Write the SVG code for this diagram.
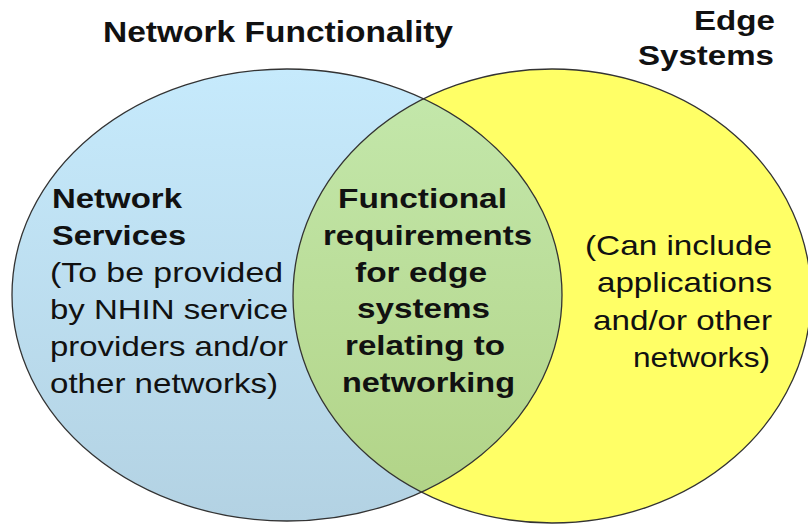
<svg xmlns="http://www.w3.org/2000/svg" width="808" height="525" viewBox="0 0 808 525">
  <style>
    .t { font-family: "Liberation Sans", Arial, sans-serif; font-size: 28px; fill: #111; }
    .b { font-weight: bold; }
    .title { font-family: "Liberation Sans", Arial, sans-serif; font-size: 30px; font-weight: bold; fill: #111; }
    .outline { fill: none; stroke: #333; stroke-width: 1.3; }
  </style>
  <defs>
    <linearGradient id="blueGrad" gradientUnits="userSpaceOnUse" x1="0" y1="69" x2="0" y2="521">
      <stop offset="0" stop-color="#c6eafc"/>
      <stop offset="1" stop-color="#b3d2e3"/>
    </linearGradient>
    <linearGradient id="greenGrad" gradientUnits="userSpaceOnUse" x1="0" y1="100" x2="0" y2="492">
      <stop offset="0" stop-color="#c3e7aa"/>
      <stop offset="1" stop-color="#b2d488"/>
    </linearGradient>
    <clipPath id="leftClip">
      <ellipse cx="287" cy="295" rx="275" ry="226"/>
    </clipPath>
  </defs>

  <rect x="0" y="0" width="808" height="525" fill="#ffffff"/>

  <g id="network-functionality">
    <ellipse cx="287" cy="295" rx="275" ry="226" fill="url(#blueGrad)"/>
  </g>
  <g id="edge-systems">
    <ellipse cx="552" cy="296" rx="259" ry="227" fill="#ffff66"/>
  </g>
  <g id="overlap">
    <ellipse cx="552" cy="296" rx="259" ry="227" fill="url(#greenGrad)" clip-path="url(#leftClip)"/>
  </g>
  <g id="outlines">
    <ellipse class="outline" cx="287" cy="295" rx="275" ry="226"/>
    <ellipse class="outline" cx="552" cy="296" rx="259" ry="227"/>
  </g>

  <g id="connectors"/>

  <g id="labels-network">
    <text class="title" x="103" y="42" textLength="350" lengthAdjust="spacingAndGlyphs">Network Functionality</text>
    <text class="t b" x="52" y="208" textLength="130" lengthAdjust="spacingAndGlyphs">Network</text>
    <text class="t b" x="52" y="245" textLength="134" lengthAdjust="spacingAndGlyphs">Services</text>
    <text class="t" x="50" y="282" textLength="233" lengthAdjust="spacingAndGlyphs">(To be provided</text>
    <text class="t" x="50" y="319" textLength="238" lengthAdjust="spacingAndGlyphs">by NHIN service</text>
    <text class="t" x="50" y="356" textLength="238" lengthAdjust="spacingAndGlyphs">providers and/or</text>
    <text class="t" x="50" y="393" textLength="228" lengthAdjust="spacingAndGlyphs">other networks)</text>
  </g>

  <g id="labels-overlap">
    <text class="t b" x="338" y="208" textLength="169" lengthAdjust="spacingAndGlyphs">Functional</text>
    <text class="t b" x="323" y="245" textLength="209" lengthAdjust="spacingAndGlyphs">requirements</text>
    <text class="t b" x="355" y="282" textLength="132" lengthAdjust="spacingAndGlyphs">for edge</text>
    <text class="t b" x="357" y="318" textLength="133" lengthAdjust="spacingAndGlyphs">systems</text>
    <text class="t b" x="345" y="355" textLength="160" lengthAdjust="spacingAndGlyphs">relating to</text>
    <text class="t b" x="342" y="392" textLength="173" lengthAdjust="spacingAndGlyphs">networking</text>
  </g>

  <g id="labels-edge">
    <text class="t b" x="694" y="30" textLength="81" lengthAdjust="spacingAndGlyphs">Edge</text>
    <text class="t b" x="638" y="65" textLength="136" lengthAdjust="spacingAndGlyphs">Systems</text>
    <text class="t" x="585" y="255" textLength="187" lengthAdjust="spacingAndGlyphs">(Can include</text>
    <text class="t" x="597" y="292" textLength="175" lengthAdjust="spacingAndGlyphs">applications</text>
    <text class="t" x="593" y="330" textLength="179" lengthAdjust="spacingAndGlyphs">and/or other</text>
    <text class="t" x="633" y="367" textLength="137" lengthAdjust="spacingAndGlyphs">networks)</text>
  </g>
</svg>
